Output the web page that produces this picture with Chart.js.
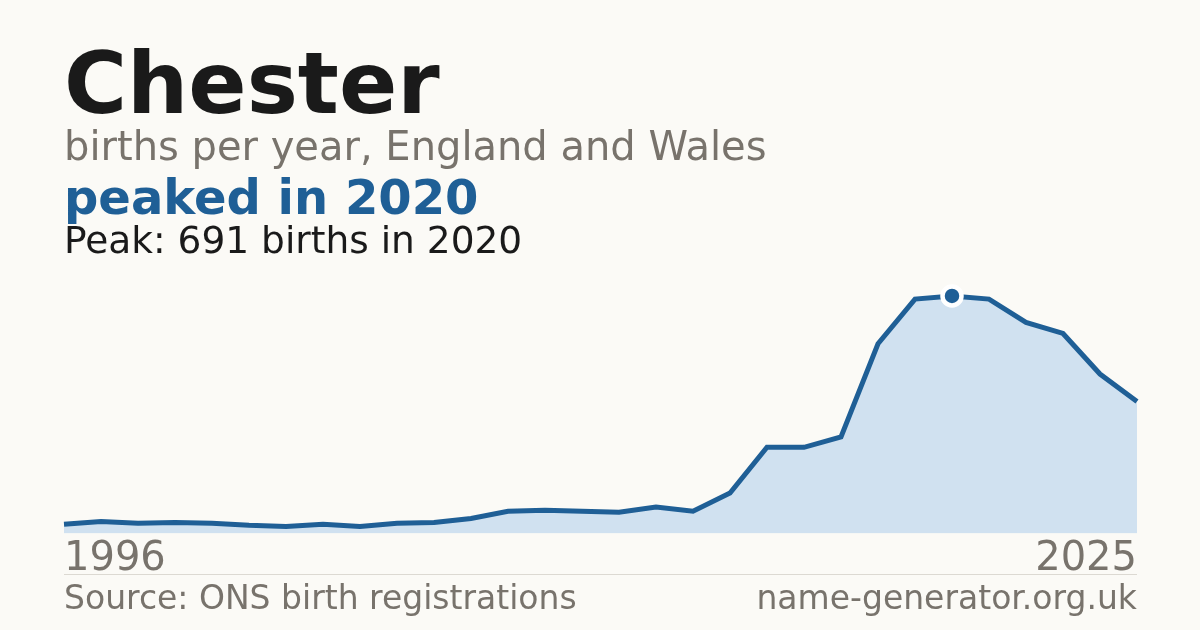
<!DOCTYPE html>
<html>
<head>
<meta charset="utf-8">
<script src="https://cdn.jsdelivr.net/npm/chart.js@4"></script>
<style>
  html, body { margin: 0; padding: 0; background: #fbfaf6; }
  #wrap { position: relative; width: 1200px; height: 630px; overflow: hidden; font-family: "DejaVu Sans", sans-serif; }
  #myChart { position: absolute; left: 0; top: 0; }
  .txt { position: absolute; left: 64px; white-space: nowrap; line-height: 1; }
  #title { top: 40.2px; font-size: 86px; font-weight: bold; color: #1a1a1a; }
  #sub { top: 125.5px; font-size: 40px; color: #78736c; }
  #peaked { top: 173.4px; font-size: 48px; font-weight: bold; color: #1f5f96; }
  #peakline { top: 222.3px; font-size: 37.5px; color: #1a1a1a; }
  #rule { position: absolute; left: 64px; top: 574px; width: 1073px; height: 1px; background: #dcd9d2; }
  #source { top: 581.4px; font-size: 33px; color: #78736c; }
  #site { top: 581.4px; left: auto; right: 63px; font-size: 33px; color: #78736c; }
</style>
</head>
<body>
<div id="wrap">
  <canvas id="myChart" width="1200" height="630"></canvas>
  <div class="txt" id="title">Chester</div>
  <div class="txt" id="sub">births per year, England and Wales</div>
  <div class="txt" id="peaked">peaked in 2020</div>
  <div class="txt" id="peakline">Peak: 691 births in 2020</div>
  <div id="rule"></div>
  <div class="txt" id="source">Source: ONS birth registrations</div>
  <div class="txt" id="site">name-generator.org.uk</div>
</div>
<script>
const years = [
  1996, 1997, 1998, 1999, 2000, 2001, 2002, 2003, 2004, 2005,
  2006, 2007, 2008, 2009, 2010, 2011, 2012, 2013, 2014, 2015,
  2016, 2017, 2018, 2019, 2020, 2021, 2022, 2023, 2024, 2025
];
const births = [
  27, 35, 30, 32, 30, 24, 21, 27, 21, 30,
  32, 44, 65, 68, 65, 62, 77, 65, 118, 251,
  251, 281, 552, 682, 691, 682, 614, 582, 464, 384
];
const tickYears = ['1996', '2025'];

const peakIdx = births.indexOf(Math.max(...births));
const blue = '#1f5f96';

const data = {
  labels: years.map(String),
  datasets: [{
    data: births,
    borderColor: blue,
    borderWidth: 5,
    backgroundColor: '#d0e1f0',
    fill: 'origin',
    tension: 0,
    clip: false,
    pointRadius: ctx => ctx.dataIndex === peakIdx ? 9.5 : 0,
    pointHoverRadius: 0,
    pointBackgroundColor: blue,
    pointBorderColor: '#ffffff',
    pointBorderWidth: 4.5
  }]
};

const config = {
  type: 'line',
  data: data,
  options: {
    responsive: false,
    animation: false,
    devicePixelRatio: 1,
    layout: {
      padding: { left: 64, right: 63, top: 286, bottom: 44.4 }
    },
    plugins: {
      legend: { display: false },
      tooltip: { enabled: false }
    },
    scales: {
      x: {
        offset: false,
        grid: { display: false, drawTicks: false },
        border: { display: false },
        ticks: {
          autoSkip: false,
          minRotation: 0,
          maxRotation: 0,
          align: 'inner',
          padding: 2,
          color: '#78736c',
          font: { family: 'DejaVu Sans', size: 40 },
          callback: function (val, i) {
            const lab = this.getLabelForValue(val);
            return tickYears.includes(lab) ? lab : '';
          }
        }
      },
      y: {
        display: false,
        min: 0,
        max: 720
      }
    }
  }
};

const myChart = new Chart(document.getElementById('myChart'), config);
</script>
</body>
</html>
